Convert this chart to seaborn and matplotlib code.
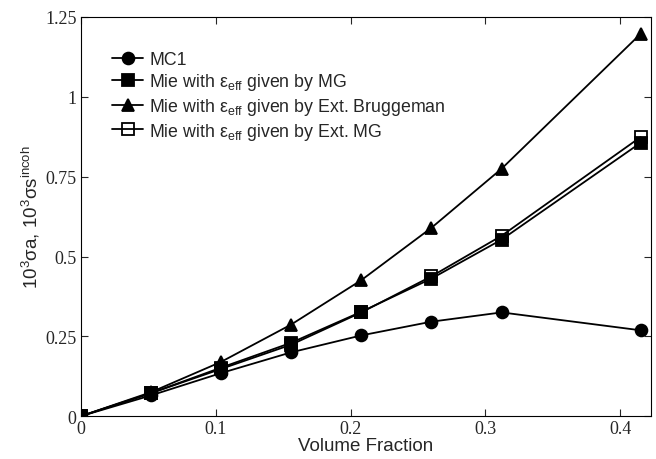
import matplotlib
matplotlib.use("Agg")
import matplotlib.pyplot as plt
import seaborn as sns
import pandas as pd

# volume fractions
vol_frac = [0, 0.052, 0.104, 0.156, 0.208, 0.26, 0.312, 0.415]

# series values (10^3 sigma)
mc1 = [0, 0.065, 0.135, 0.200, 0.253, 0.296, 0.325, 0.269]
mie_mg = [0, 0.072, 0.152, 0.230, 0.327, 0.431, 0.553, 0.856]
mie_brug = [0, 0.075, 0.170, 0.287, 0.426, 0.590, 0.775, 1.197]
mie_ext_mg = [0, 0.072, 0.148, 0.224, 0.325, 0.438, 0.565, 0.874]

labels = ["MC1",
          r"Mie with $\mathregular{\varepsilon_{eff}}$ given by MG",
          r"Mie with $\mathregular{\varepsilon_{eff}}$ given by Ext. Bruggeman",
          r"Mie with $\mathregular{\varepsilon_{eff}}$ given by Ext. MG"]

x_ticks = [0, 0.1, 0.2, 0.3, 0.4]
x_ticklabels = ["0", "0.1", "0.2", "0.3", "0.4"]
y_ticks = [0, 0.25, 0.5, 0.75, 1, 1.25]
y_ticklabels = ["0", "0.25", "0.5", "0.75", "1", "1.25"]

sns.set_style("white")
plt.rcParams['font.family'] = ['Liberation Sans', 'DejaVu Sans']
plt.rcParams['mathtext.fontset'] = 'custom'
plt.rcParams['mathtext.rm'] = 'Liberation Sans'
plt.rcParams['mathtext.it'] = 'Liberation Sans'

df = pd.DataFrame({
    'x': vol_frac * 4,
    'y': mc1 + mie_mg + mie_brug + mie_ext_mg,
    'series': sum([[lab] * len(vol_frac) for lab in labels], []),
})

fig, ax = plt.subplots(figsize=(6.56, 4.6), dpi=100)
fig.subplots_adjust(left=0.123, right=0.993, top=0.961, bottom=0.093)

styles = [('o', 'black'), ('s', 'black'), ('^', 'black'), ('s', 'none')]
for lab, (mk, fc) in zip(labels, styles):
    sub = df[df['series'] == lab]
    sns.lineplot(data=sub, x='x', y='y', ax=ax, color='black', marker=mk,
                 markersize=8.5, markerfacecolor=fc, markeredgecolor='black',
                 markeredgewidth=1.3, linewidth=1.3, label=lab)

ax.set_xlim(0, 0.423)
ax.set_ylim(0, 1.25)
ax.set_xticks(x_ticks)
ax.set_xticklabels(x_ticklabels, family='Liberation Serif', fontsize=13)
ax.set_yticks(y_ticks)
ax.set_yticklabels(y_ticklabels, family='Liberation Serif', fontsize=13)
ax.tick_params(direction='in', length=5, width=0.8, top=True, right=True,
               bottom=True, left=True, pad=3)
for sp in ax.spines.values():
    sp.set_color('black')
    sp.set_linewidth(0.8)

ax.set_xlabel("Volume Fraction", fontsize=13.5, labelpad=0)
ax.set_ylabel(r"10$^{3}$σa, 10$^{3}$σs$^{incoh}$", fontsize=13.5, labelpad=2)

leg = ax.legend(loc='upper left', bbox_to_anchor=(0.055, 0.915), frameon=False,
                fontsize=12.8, handlelength=1.75, handletextpad=0.35,
                labelspacing=0.2, borderaxespad=0, borderpad=0)

fig.savefig("out.png", dpi=100)
